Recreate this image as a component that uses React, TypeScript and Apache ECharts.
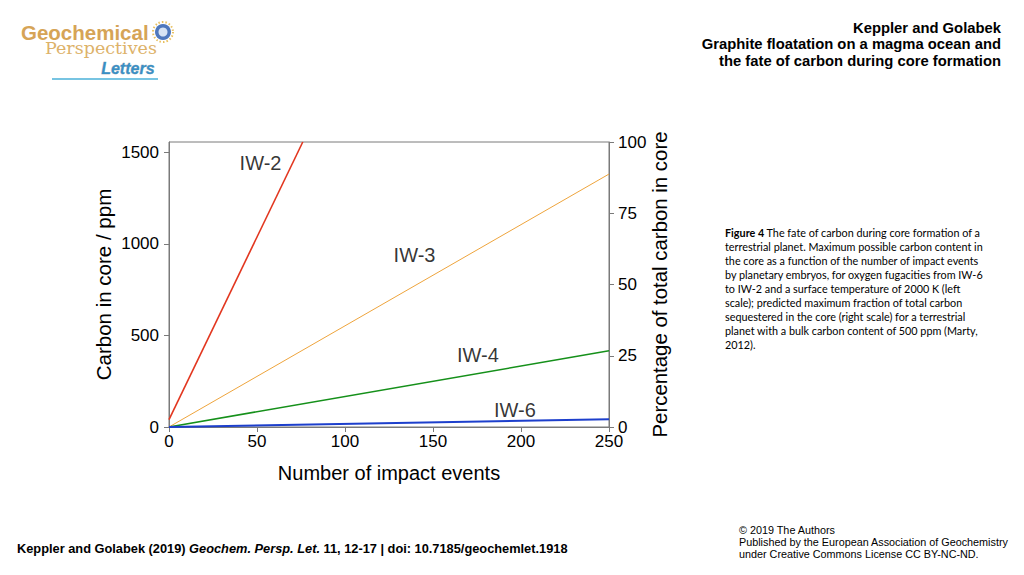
import React, { useEffect, useRef } from "react";
import * as echarts from "echarts";

const xTicks = [0, 50, 100, 150, 200, 250];
const leftTicks = [0, 500, 1000, 1500];
const rightTicks = [0, 25, 50, 75, 100];

const iw2 = [[0, 40], [76, 1556]];
const iw3 = [[0, 0], [250, 1381]];
const iw4 = [[0, 0], [250, 416]];
const iw6 = [[0, 0], [250, 42]];

const lineLabels = [
  { name: "IW-2", value: [52, 1441] },
  { name: "IW-3", value: [139.5, 939] },
  { name: "IW-4", value: [175.5, 393] },
  { name: "IW-6", value: [196.5, 93] },
];

const captionLines = [
  "The fate of carbon during core formation of a",
  "terrestrial planet. Maximum possible carbon content in",
  "the core as a function of the number of impact events",
  "by planetary embryos, for oxygen fugacities from IW-6",
  "to IW-2 and a surface temperature of 2000 K (left",
  "scale); predicted maximum fraction of total carbon",
  "sequestered in the core (right scale) for a terrestrial",
  "planet with a bulk carbon content of 500 ppm (Marty,",
  "2012).",
];

const titleLines = [
  "Keppler and Golabek",
  "Graphite floatation on a magma ocean and",
  "the fate of carbon during core formation",
];

const licenseLines = [
  "© 2019 The Authors",
  "Published by the European Association of Geochemistry",
  "under Creative Commons License CC BY-NC-ND.",
];

const FONT = "'Liberation Sans', Arial, sans-serif";
const AXIS_COLOR = "#7a7a7a";

export default function App() {
  const ref = useRef<HTMLDivElement>(null);
  useEffect(() => {
    if (!ref.current) return;
    const chart = echarts.init(ref.current, null, { renderer: "svg" });
    const lineSeries = (data: number[][], color: string, width: number) => ({
      type: "line",
      data,
      symbol: "none",
      lineStyle: { color, width },
      silent: true,
      z: 3,
    });
    const graphics: any[] = [];
    titleLines.forEach((t, i) => {
      graphics.push({
        type: "text",
        right: 23,
        top: 20 + i * 16.5,
        style: { text: t, font: `bold 14.8px ${FONT}`, fill: "#000", textAlign: "right" },
      });
    });
    graphics.push({
      type: "text",
      left: 725,
      top: 225,
      style: {
        text: "{b|Figure 4} " + captionLines[0] + "\n" + captionLines.slice(1).join("\n"),
        rich: {
          b: { fontFamily: "Lato, sans-serif", fontSize: 10.8, fontWeight: "bold", lineHeight: 14.1, fill: "#000" },
        },
        fontFamily: "Lato, sans-serif",
        fontSize: 10.8,
        lineHeight: 14.1,
        fill: "#000",
      },
    });
    licenseLines.forEach((t, i) => {
      graphics.push({
        type: "text",
        left: 739,
        top: 524 + i * 12,
        style: { text: t, font: `10.8px ${FONT}`, fill: "#000" },
      });
    });
    graphics.push({
      type: "text",
      left: 17,
      top: 542,
      style: {
        text: "{n|Keppler and Golabek (2019) }{i|Geochem. Persp. Let.}{n| 11, 12-17 | doi: 10.7185/geochemlet.1918}",
        rich: {
          n: { fontFamily: FONT, fontSize: 12.8, fontWeight: "bold", fill: "#000" },
          i: { fontFamily: FONT, fontSize: 12.8, fontWeight: "bold", fontStyle: "italic", fill: "#000" },
        },
      },
    });
    // logo
    graphics.push({
      type: "text",
      left: 21,
      top: 22,
      style: { text: "Geochemical", font: `bold 20.5px ${FONT}`, fill: "#d6a456" },
    });
    graphics.push({
      type: "text",
      left: 45,
      top: 39,
      style: { text: "Perspectives", font: `17.5px 'DejaVu Serif', serif`, fill: "#ddb269" },
    });
    graphics.push({
      type: "text",
      left: 101,
      top: 60,
      style: { text: "Letters", font: `italic bold 16px ${FONT}`, fill: "#3a8fc4", stroke: "#8a9aa8", lineWidth: 0.4 },
    });
    graphics.push({
      type: "line",
      shape: { x1: 52, y1: 79, x2: 158, y2: 79 },
      style: { stroke: "#4ab0d8", lineWidth: 1.5 },
    });
    graphics.push({
      type: "circle",
      shape: { cx: 163, cy: 32, r: 10 },
      style: { fill: "#fff", stroke: "#e8c060", lineWidth: 2, lineDash: [1.5, 2] },
    });
    graphics.push({
      type: "circle",
      shape: { cx: 163, cy: 32, r: 8 },
      style: { fill: "#4f78bd" },
    });
    graphics.push({
      type: "circle",
      shape: { cx: 163, cy: 32, r: 4.5 },
      style: { fill: "#d8e4f4" },
    });

    chart.setOption({
      animation: false,
      backgroundColor: "#fff",
      grid: {
        left: 169,
        right: 415,
        top: 142,
        bottom: 148,
        show: true,
        borderColor: AXIS_COLOR,
        borderWidth: 1,
        backgroundColor: "transparent",
      },
      xAxis: {
        type: "value",
        min: 0,
        max: 250,
        interval: 50,
        name: "Number of impact events",
        nameLocation: "middle",
        nameGap: 36,
        nameTextStyle: { fontFamily: FONT, fontSize: 20, color: "#000" },
        axisLine: { show: true, lineStyle: { color: AXIS_COLOR, width: 1 } },
        axisTick: { show: true, inside: false, length: 5, lineStyle: { color: AXIS_COLOR } },
        axisLabel: {
          fontFamily: FONT,
          fontSize: 17,
          color: "#000",
          margin: 6,
          customValues: xTicks,
          formatter: (v: number) => String(v),
        },
        splitLine: { show: false },
      },
      yAxis: [
        {
          type: "value",
          min: 0,
          max: 1556,
          position: "left",
          name: "Carbon in core / ppm",
          nameLocation: "middle",
          nameGap: 55,
          nameTextStyle: { fontFamily: FONT, fontSize: 20.5, color: "#000" },
          axisLine: { show: true, lineStyle: { color: AXIS_COLOR, width: 1 } },
          axisTick: { show: true, length: 5, lineStyle: { color: AXIS_COLOR }, customValues: leftTicks },
          axisLabel: {
            fontFamily: FONT,
            fontSize: 17,
            color: "#000",
            margin: 10,
            customValues: leftTicks,
            formatter: (v: number) => String(v),
          },
          splitLine: { show: false },
        },
        {
          type: "value",
          min: 0,
          max: 100,
          interval: 25,
          position: "right",
          name: "Percentage of total carbon in core",
          nameLocation: "middle",
          nameGap: 41,
          nameRotate: 90,
          nameTextStyle: { fontFamily: FONT, fontSize: 20.4, color: "#000" },
          axisLine: { show: true, lineStyle: { color: AXIS_COLOR, width: 1 } },
          axisTick: { show: true, length: 5, lineStyle: { color: AXIS_COLOR }, customValues: rightTicks },
          axisLabel: {
            fontFamily: FONT,
            fontSize: 17,
            color: "#000",
            margin: 9,
            customValues: rightTicks,
            formatter: (v: number) => String(v),
          },
          splitLine: { show: false },
        },
      ],
      series: [
        lineSeries(iw2, "#e2361f", 1.6),
        lineSeries(iw3, "#eea43c", 1),
        lineSeries(iw4, "#15901a", 1.6),
        lineSeries(iw6, "#1d3fcc", 2),
        {
          type: "scatter",
          data: lineLabels,
          symbolSize: 0,
          silent: true,
          label: {
            show: true,
            position: "inside",
            formatter: (p: any) => p.name,
            fontFamily: FONT,
            fontSize: 20,
            color: "#000",
          },
          z: 5,
        },
      ],
      graphic: graphics,
    });
    return () => chart.dispose();
  }, []);
  return (
    <div
      ref={ref}
      style={{ position: "absolute", left: 0, top: 0, width: 1024, height: 575, background: "#fff" }}
    />
  );
}
